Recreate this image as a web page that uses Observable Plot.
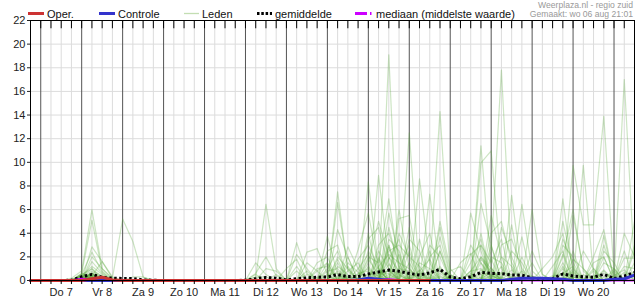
<!DOCTYPE html>
<html><head><meta charset="utf-8">
<script src="https://cdn.jsdelivr.net/npm/d3@7"></script>
<script src="https://cdn.jsdelivr.net/npm/@observablehq/plot@0.6"></script>
<style>
body{margin:0;background:#fff;}
#wrap{position:relative;width:635px;height:300px;font-family:"Liberation Sans",Arial,sans-serif;}
#wrap > svg{display:block}
#legend{position:absolute;left:0;top:0;}
</style></head><body><div id="wrap"></div>
<script>
// ---- time axis ----
const startTijd = "2025-08-06T18:00Z";
const eindTijd = "2025-08-21T12:00Z";
const stapUren = 6;
const dagLabels = ["Do 7","Vr 8","Za 9","Zo 10","Ma 11","Di 12","Wo 13","Do 14","Vr 15","Za 16","Zo 17","Ma 18","Di 19","Wo 20"];
const yTicks = [0,2,4,6,8,10,12,14,16,18,20,22];

// ---- series (mm per 6 h, from 6 aug 18:00, every 6 h) ----
const gemiddelde = [0, 0,0,0,0.02, 0.32,0.52,0.27,0.2, 0.17,0.17,0.05,0.02, 0,0,0,0, 0,0,0,0, 0.02,0.15,0.25,0.2, 0.05,0.15,0.22,0.28, 0.3,0.5,0.33,0.33, 0.55,0.72,0.88,0.78, 0.6,0.46,0.64,0.95, 0.3,0.15,0.32,0.68, 0.6,0.58,0.47,0.45, 0.22,0.08,0.16,0.55, 0.38,0.31,0.28,0.52, 0.17,0.38,0.66];
const mediaan = [0, 0,0,0,0, 0.15,0.1,0.02,0, 0,0,0,0, 0,0,0,0, 0,0,0,0, 0,0,0,0, 0,0,0,0, 0,0,0,0, 0,0.05,0.1,0.05, 0,0,0,0.05, 0,0,0,0.05, 0.05,0.05,0,0, 0,0,0,0, 0,0,0,0, 0,0,0];
const oper = [0, 0,0,0,0, 0,0.15,0.28,0.05, 0,0,0,0, 0,0,0,0, 0,0,0,0, 0,0,0,0, 0,0,0,0, 0,0,0,0, 0,0,0,0, 0,0,0];
const controle = [0, 0,0,0,0, 0,0,0,0, 0,0,0,0, 0,0,0,0, 0,0,0,0, 0,0,0,0, 0,0,0,0, 0,0,0,0.05, 0.2,0.1,0,0, 0,0,0,0, 0,0,0,0, 0,0,0.1,0.2, 0.2,0.2,0.15,0.1, 0,0,0,0, 0.1,0.15,0.45];
const leden = [
[0, 0,0,0,0.2, 0.8,6.0,1.0,0.1, 0,0,0,0, 0,0,0,0, 0,0,0,0, 0,0,0,0, 0,0,0,0, 0,1.2,0.5,0, 0,0,2.0,0.8, 0,0,0,0, 0,0,0,1.5, 0.4,0,0,0, 0,0,0,0.6, 1.2,0,0,0, 0,0,0],
[0, 0,0,0,0, 0.6,5.1,0.8,0, 0,0,0,0, 0,0,0,0, 0,0,0,0, 0,0,0,0, 0,0,0,0, 0,0,0,0, 8.35,1.0,0,0, 0,0,0,2.5, 0,0,0,0, 0,1.2,0,0, 0,0,0,0, 0,0,0,0.8, 0,0,0],
[0, 0,0,0,0, 0,2.85,1.6,0.3, 0,0,0,0, 0,0,0,0, 0,0,0,0, 0,1.5,0.5,0, 0,0,0,0, 0,0,0,0, 0,0,19.1,0, 0,0,0,0, 0,0,0.8,2.0, 0.5,0,0,0, 0.3,0,0,0, 0,0,1.0,0, 0,0,0],
[0, 0,0,0,0, 0.5,2.4,0.7,0, 0,0,0,0, 0,0,0,0, 0,0,0,0, 0,0,0,0, 0,0,0,0, 3.76,0.5,0,0, 0,0,0,0, 12.5,0.4,0,0, 0,0,0,0, 0,0,7.2,0.6, 0,0,0,0, 0,0,0,0, 0,1.9,1.9],
[0, 0,0,0,0, 0,2.0,1.0,0.2, 5.2,3.3,0.3,0, 0,0,0,0, 0,0,0,0, 0,0,0,0, 0,0.8,0,0, 0,0,0,0, 0,8.9,1.5,0, 0,0,0,0, 0.2,0,0,0, 2.5,17.8,1.0,0, 0,0,0,0, 0.3,0,0,0, 0,0,0],
[0, 0,0,0,0, 0,1.6,0.6,0, 0,0,0,0, 0,0,0,0, 0,0,0,0, 0,0.3,6.45,1.0, 0,0,0,0, 0,7.5,0.8,0, 0,0,0,0, 0,0,1.0,14.3, 0.5,0,0,0, 0,0,0,0, 0,0,0,6.9, 0.5,0,0,0, 0,0,0],
[0, 0,0,0,0, 0.4,1.2,0.5,0, 0,0,0,0, 0,0,0,0, 0,0,0,0, 0,0,0,0, 0,3.2,0.6,0, 0,0,0,0, 2.0,1.5,6.9,1.2, 0,0,0,0, 0,0,0,11.4, 1.0,0,0,0, 0,0,0,0, 0,0,0,0, 0.3,0,0],
[0, 0,0,0,0, 0.5,1.0,0.3,0, 0,0,0,0, 0,0,0,0, 0,0,0,0, 0,0.6,2.0,0.4, 0,0,0,0, 0,0,2.85,1.0, 0,0,0,0, 0,8.6,1.5,0, 0,0,0,0, 0,0,0,6.45, 0.8,0,0,0, 9.75,4.7,4.7,13.9, 0.6,0,0],
[0, 0,0,0,0, 0.3,0.8,0.4,0, 0,0,0,0, 0,0,0,0, 0,0,0,0, 0,0,0,0, 0,0,2.4,2.7, 0.5,0,0,0, 0,0,0,5.25, 5.5,0.7,0,0, 0,0,0,9.95, 10.96,1.0,0,0, 0,0,0,0, 0,9.75,0.4,0, 0,0,0],
[0, 0,0,0,0, 0.3,0.6,0,0, 0,0,0,0, 0,0,0,0, 0,0,0,0, 0,0,0,0, 0,0,0,0, 0,6.6,1.0,0, 0,0,0,0, 0,0,7.3,0.8, 0,0,0,0, 0,0,0,0, 6.0,0.5,0,0, 0,0,0,0, 0,17.0,1.0],
[0, 0,0,0,0, 0.2,0.5,0.2,0, 0,0,0,0, 0,0,0,0, 0,0,0,0, 0,0,0,0, 0,0,0,0, 1.5,0,0,2.6, 5.7,1.0,0,0, 0,0,0,3.7, 0.3,0,0,0, 1.8,0,0,0, 0,0,0,5.0, 1.0,0,0,0, 0,0,0],
[0, 0,0,0,0, 0,0.4,1.6,0.2, 0,0.3,0.3,0, 0,0,0,0, 0,0,0,0, 0,0,0,0, 1.0,1.8,0,0, 0,0,0,0, 0,0,5.7,2.0, 0,0,0,0, 0,0,2.2,3.0, 0,0,4.7,0, 0,0,0,0, 0,0,0,3.8, 0,0,0],
[0, 0,0,0,0, 0.6,0.3,0,0, 0,0,0,0, 0,0,0,0, 0,0,0,0, 0,0,0,0, 0,0,0,0, 0,4.3,2.0,0, 0,0,2.5,3.0, 2.0,0,0,0, 0,1.5,2.3,0, 0,0,0,3.7, 0,0,0,0, 0,0,2.0,4.3, 0,0,0],
[0, 0,0,0,0, 0.2,0.6,0,0, 0,0,0,0, 0,0,0,0, 0,0,0,0, 0,0,0,0, 0,0,0,1.5, 2.0,0,0,0, 3.5,4.5,1.0,0, 0,2.0,4.0,0, 0,0,0,0, 5.5,2.0,0,0, 0,0,0,0, 2.5,0,0,0, 0,0,0],
[0, 0,0,0,0, 0,0.3,0,0, 0,0,0,0, 0,0,0,0, 0,0,0,0, 0,0,0,0.5, 0,0,0,0, 0,0,1.5,0.7, 0,3.0,4.0,1.5, 0,0,0,5.0, 1.0,0,0,4.0, 0,0,0,0, 0,0,0,3.0, 2.0,0,0,0, 0,0,3.0],
[0, 0,0,0,0, 0.4,0,0,0, 0,0,0,0, 0,0,0,0, 0,0,0,0, 0,0.5,0,0, 0,0,1.5,0.8, 0,0,0,0, 4.0,0,3.0,0, 4.5,0,0,0, 0,0,5.7,2.5, 0,0,0,0, 0,1.0,2.0,4.0, 0,0,0,0, 1.0,0,0],
[0, 0,0,0,0, 0.3,1.0,0,0, 0,0,0,0, 0,0,0,0, 0,0,0,0, 0,0,0,0, 0,0,0,0, 2.5,3.0,0,0, 0,2.0,0,6.0, 1.0,0,0,0, 0,0,0,0, 0,4.5,2.0,0, 0,0,0,0, 5.5,1.0,0,0, 0,0,2.5],
[0, 0,0,0,0, 0,0.2,0,0, 0,0,0,0, 0,0,0,0, 0,0,0,0, 0,0,1.0,0.8, 0,0,0,0, 0,1.8,0,0, 0,0,3.5,2.5, 0,0,2.0,3.0, 0,0,0,6.5, 3.0,0,0,0, 0,0,0,0, 0,0,0,2.5, 1.5,0,0],
[0, 0,0,0,0, 0.3,0.4,0,0, 0,0,0,0, 0,0,0,0, 0,0,0,0, 0,0,0,0, 0,2.2,1.0,0, 0,0,0,1.8, 3.0,1.0,0,0, 0,3.5,0,0, 0,0,0,0, 4.0,5.0,1.5,0, 0,0,0,2.0, 6.0,0.8,0,0, 0,0,0],
[0, 0,0,0,0, 0,0.5,0.3,0, 0,0,0,0, 0,0,0,0, 0,0,0,0, 0,0,0,0, 0,0,0,1.0, 1.2,0,0,0, 0,0,4.5,1.0, 3.0,0,0,0, 0,0,1.5,3.5, 0,0,0,0, 2.5,0.5,0,0, 0,0,1.5,2.0, 0,0,5.0],
[0, 0,0,0,0, 0.2,0.3,0,0, 0,0,0,0, 0,0,0,0, 0,0,0,0, 0,0,0,0, 0,0,0,0, 0,2.0,1.0,0, 1.5,5.0,2.0,0, 0,0,2.5,0, 0,0,0,0, 0,3.0,3.5,1.0, 0,0,0,0, 0,0,0,0, 0,4.0,2.0],
[0, 0,0,0,0, 0,0.7,0.2,0, 0,0,0,0, 0,0,0,0, 0,0,0,0, 0,0,0,0, 0,0,0.8,0, 0,0,0,1.0, 2.2,0,0,4.0, 2.0,1.2,0,0, 0,0,0,2.0, 1.0,0,0,0, 0,0,0,3.5, 1.5,0,0,0, 0.8,0,0],
[0, 0,0,0,0, 0.5,0.4,0,0, 0,0,0,0, 0,0,0,0, 0,0,0,0, 0,0,0,0, 0,0,0,0, 1.0,2.5,0,0, 0,0,1.8,3.5, 0,0,0,0, 0.8,1.2,0,0, 3.0,0,0,2.0, 0,0,0,0, 0,2.5,1.0,0, 0,0,0],
[0, 0,0,0,0, 0,0.25,0,0, 0,0,0,0, 0,0,0,0, 0,0,0,0, 0,0,0,0, 0,0,0,0, 0,0,0.8,1.5, 0,2.5,1.0,0, 3.5,2.5,0,0, 0,0,3.0,1.5, 0,0,0,0, 0,0,1.2,2.5, 0,0,0,0, 0,2.5,0],
[0, 0,0,0,0, 0.2,0.2,0,0, 0,0,0,0, 0,0,0,0, 0,0,0,0, 0,0.3,0.3,0, 0,0,0,0.8, 1.5,0,0,0, 1.2,0,3.0,0.5, 0,0,0,4.5, 0.5,0,0,0, 0,0,2.5,1.5, 0,0,0,0, 0,0,0,3.0, 0.5,0,0],
[0, 0,0,0,0, 0,0.6,0,0, 0,0,0,0, 0,0,0,0, 0,0,0,0, 0,0,0,0, 0,0,0,0, 0,1.5,0,0, 0,1.2,2.2,1.5, 1.0,0,3.0,2.0, 0,0,0,0, 2.0,1.5,0,0, 0,0,0,0, 1.8,1.0,0,0, 0,0,1.5],
[0, 0,0,0,0, 0.4,0.5,0,0, 0,0,0,0, 0,0,0,0, 0,0,0,0, 0,0,0,0, 0,1.2,0,0, 0,0,2.0,0, 2.5,0.8,0,0, 0,1.5,1.0,0, 0,0,0,3.0, 1.5,3.5,0,0, 0,0,0,1.2, 0,0,0,1.5, 1.0,0,0],
[0, 0,0,0,0, 0,0.35,0,0, 0,0,0,0, 0,0,0,0, 0,0,0,0, 0,0,0,0, 0,0,0,0, 0.8,1.0,0,0.5, 1.0,0,2.8,0, 1.5,0,0,2.5, 0,0,0.8,1.0, 0,0,0,0, 1.5,0,0,1.5, 0,0,0.8,0, 0,0,0],
[0, 0,0,0,0, 0.3,0.4,0.2,0, 0,0,0,0, 0,0,0,0, 0,0,0,0, 0,0,0,0, 0,0,0,0, 0,0,1.2,0, 0,1.8,0,2.2, 0,0.8,1.8,0, 0,0,0,0, 0,2.0,1.2,0, 0,0,0,0, 1.0,0,0,2.0, 0,0,0],
[0, 0,0,0,0, 0,0.2,0,0, 0,0,0,0, 0,0,0,0, 0,0,0,0, 0,0,0,0, 0,0,0.5,0, 0,0.8,0,0, 1.8,0.5,0,0, 2.5,0,0,0, 0.3,0,0,1.8, 0.8,0,0,0, 0,0,0,2.2, 0,0,0,0, 0,1.2,1.0],
[0, 0,0,0,0, 0.2,0.3,0,0, 0,0,0,0, 0,0,0,0, 0,0,0,0, 0,0,0,0, 0,0,0,0, 0.5,0.6,0,0, 0,0,1.0,0.5, 0,0,0,1.2, 0,0,0,0, 0.8,0,0,0, 0,0,0,0.6, 0,0,0,0, 0,0,0.5],
[0, 0,0,0,0, 0,0.2,0,0, 0,0,0,0, 0,0,0,0, 0,0,0,0, 0,0,0,0, 0,0,0,0, 0,0,0.4,0, 0,0.7,0.8,0, 0,0.6,0,0, 0,0,0,0.9, 0,0,0,0, 0,0,0,0, 0.7,0,0,0, 0,0,0],
[0, 0,0,0,0, 0.15,0.3,0,0, 0,0,0,0, 0,0,0,0, 0,0,0,0, 0,0,0,0, 0,0,0,0, 0,0,0,0, 0.5,0,0,1.0, 0.8,0,0,0, 0,0,0,0, 0,0.6,0.5,0, 0,0,0,0, 0,0,0,0.9, 0,0,0],
[0, 0,0,0,0, 0,0.25,0,0, 0,0,0,0, 0,0,0,0, 0,0,0,0, 0,0,0,0, 0,0,0,0, 0,0.4,0,0, 0,0.9,0,0, 0,0,0.7,1.0, 0,0,0,0, 0,0,0,0.8, 0,0,0,0, 0,0,0.4,0, 0,0.7,0],
[0, 0,0,0,0, 0,0.1,0,0, 0,0,0,0, 0,0,0,0, 0,0,0,0, 0,0,0,0, 0,0,0,0.3, 0,0,0,0, 0,0,1.4,0, 0,0,0,0, 0.4,0,0,0.7, 0.5,0,0,0, 0,0,0,1.0, 0,0,0,0, 0,0,0],
[0, 0,0,0,0, 0.2,0.3,0,0, 0,0,0,0, 0,0,0,0, 0,0,0,0, 0,0,0,0, 0,0,0,0, 0,0,0,0.6, 0.8,0,0,0, 0.5,0,0,0, 0,0,0.6,0, 0,0,0,0, 0.4,0,0,0, 0.8,0,0,0, 0,0,0.8],
[0, 0,0,0,0, 0,0.15,0,0, 0,0,0,0, 0,0,0,0, 0,0,0,0, 0,0,0,0, 0,0,0,0, 0,0.3,0,0, 0,0.5,0.6,0, 0,0,0,0.8, 0,0,0,0, 0,0,0.9,0, 0,0,0,0, 0,0.5,0,0, 0,0,0],
[0, 0,0,0,0, 0.1,0.2,0,0, 0,0,0,0, 0,0,0,0, 0,0,0,0, 0,0,0,0, 0,0,0,0, 0,0,0,0, 0,0,0,0.7, 0,0.9,0,0, 0,0,0,0, 1.1,0,0,0, 0,0,0,0.7, 0,0,0,0.6, 0,0,0],
[0, 0,0,0,0, 0,0.3,0,0, 0,0,0,0, 0,0,0,0, 0,0,0,0, 0,0,0,0, 0,0,0,0, 0.4,0,0,0, 0.6,0.4,0,0, 0,0,0.5,0, 0,0,0,0, 0,0.7,0,0, 0,0,0,0, 0,0,0,0, 0.4,0.9,0],
[0, 0,0,0,0, 0,0.2,0,0, 0,0,0,0, 0,0,0,0, 0,0,0,0, 0,0,0,0, 0,0,0,0, 0,0,0.3,0, 0,0,0.9,0, 0,0,0,0.6, 0,0,0,0.5, 0,0,0,0, 0,0,0.4,0.6, 0,0,0,0, 0,0,0],
[0, 0,0,0,0, 0,0.1,0,0, 0,0,0,0, 0,0,0,0, 0,0,0,0, 0,0,0,0, 0,0,0,0, 0,0,0,0, 0,0.3,0,0, 0,0,0,0, 0,0,0,0, 0.4,0,0,0, 0,0,0,0, 0.3,0,0,0, 0,0,0],
[0, 0,0,0,0, 0.1,0,0,0, 0,0,0,0, 0,0,0,0, 0,0,0,0, 0,0,0,0, 0,0,0,0, 0,0,0,0, 0,0,0.5,0, 0,0,0,0, 0,0,0,0.3, 0,0,0,0, 0,0,0,0, 0,0,0,0, 0,0,0],
[0, 0,0,0,0, 0,0.15,0,0, 0,0,0,0, 0,0,0,0, 0,0,0,0, 0,0,0,0, 0,0,0,0, 0,0,0,0, 0.3,0,0,0, 0,0,0,0.4, 0,0,0,0, 0,0,0,0, 0,0,0,0.3, 0,0,0,0, 0,0,0],
[0, 0,0,0,0, 0,0,0,0, 0,0,0,0, 0,0,0,0, 0,0,0,0, 0,0,0,0, 0,0,0,0, 0,0,0,0, 0,0,0,0.4, 0,0,0,0, 0,0,0,0, 0,0,0.3,0, 0,0,0,0, 0,0,0,0, 0,0,0.4],
[0, 0,0,0,0, 0,0.1,0,0, 0,0,0,0, 0,0,0,0, 0,0,0,0, 0,0,0,0, 0,0,0,0, 0,0.2,0,0, 0,0,0,0, 0,0,0.3,0, 0,0,0,0, 0,0,0,0, 0,0,0,0, 0,0,0,0.3, 0,0,0],
[0, 0,0,0,0, 0,0,0,0, 0,0,0,0, 0,0,0,0, 0,0,0,0, 0,0,0,0, 0,0,0,0, 0,0,0,0, 0,0,0.3,0, 0,0,0,0, 0,0,0,0, 0,0.3,0,0, 0,0,0,0, 0,0,0,0, 0,0,0],
[0, 0,0,0,0, 0,0.1,0,0, 0,0,0,0, 0,0,0,0, 0,0,0,0, 0,0,0,0, 0,0,0,0, 0,0,0,0, 0,0,0,0, 0.3,0,0,0, 0,0,0,0, 0,0,0,0, 0,0,0,0.2, 0,0,0,0, 0,0,0],
[0, 0,0,0,0, 0,0,0,0, 0,0,0,0, 0,0,0,0, 0,0,0,0, 0,0,0,0, 0,0,0,0, 0,0,0,0, 0,0.2,0,0, 0,0,0,0, 0,0,0,0.2, 0,0,0,0, 0,0,0,0, 0,0,0,0, 0,0,0],
[0, 0,0,0,0, 0,0,0,0, 0,0,0,0, 0,0,0,0, 0,0,0,0, 0,0,0,0, 0,0,0,0, 0,0,0,0, 0,0,0,0, 0,0,0,0.3, 0,0,0,0, 0,0,0,0, 0,0,0,0, 0,0,0,0, 0,0.3,0],
[0, 0,0,0,0, 0,0,0,0, 0,0,0,0, 0,0,0,0, 0,0,0,0, 0,0,0,0, 0,0,0,0, 0,0,0,0, 0,0,0,0, 0,0,0,0, 0,0,0,0, 0,0,0,0, 0,0,0,0, 0,0,0,0, 0,0,0]
];

// ---- build tables ----
const t0 = new Date(startTijd), t1 = new Date(eindTijd);
const tijden = d3.range(gemiddelde.length).map(i => d3.utcHour.offset(t0, i * stapUren));
const reeks = arr => arr.map((v, i) => ({t: tijden[i], v}));
const ledenData = leden.flatMap((arr, m) => arr.map((v, i) => ({lid: m, t: tijden[i], v})));
const zesUur = d3.utcHour.every(stapUren).range(t0, d3.utcHour.offset(t1, 1));
const middernacht = d3.utcDay.range(t0, t1);
const dagen = middernacht.slice(0, dagLabels.length).map((d, i) => ({t: d3.utcHour.offset(d, 12), label: dagLabels[i]}));

const chart = Plot.plot({
  width: 635, height: 300,
  marginTop: 20, marginBottom: 20, marginLeft: 30, marginRight: 1,
  style: {fontFamily: "'Liberation Sans', Arial, sans-serif", fontSize: "11px", background: "#fff", color: "#222"},
  x: {type: "utc", domain: [t0, t1], axis: null},
  y: {domain: [0, 22]},
  marks: [
    Plot.ruleY(yTicks.filter(v => v > 0 && v < 22), {stroke: "#dcdcdc"}),
    Plot.ruleX(zesUur.filter(d => d.getUTCHours() !== 0), {stroke: "#dcdcdc"}),
    Plot.ruleX(middernacht, {stroke: "#555"}),
    Plot.line(ledenData, {x: "t", y: "v", z: "lid", stroke: "#58a83a", strokeOpacity: 0.3, strokeWidth: 1.2}),
    Plot.line(reeks(gemiddelde), {x: "t", y: "v", stroke: "#000", strokeWidth: 3, strokeDasharray: "2.5,2.5", strokeLinecap: "butt", strokeLinejoin: "miter"}),
    Plot.line(reeks(mediaan), {x: "t", y: "v", stroke: "#cc00ff", strokeWidth: 2}),
    Plot.line(reeks(controle), {x: "t", y: "v", stroke: "#3333cc", strokeWidth: 3}),
    Plot.line(reeks(oper), {x: "t", y: "v", stroke: "#cc3333", strokeWidth: 3}),
    Plot.frame({stroke: "#000"}),
    Plot.ruleX(zesUur, {x: d => d, y1: 22, y2: 21.3, stroke: "#000"}),
    Plot.ruleX(zesUur, {x: d => d, y1: 0, y2: -0.34, stroke: "#000"}),
    Plot.axisY(yTicks, {tickSize: 3, tickPadding: 2, label: null, fontSize: 11, fill: "#222"}),
    Plot.text(dagen, {x: "t", text: "label", frameAnchor: "bottom", dy: 11.5, lineAnchor: "middle", fontSize: 11, fill: "#222"})
  ]
});
const wrap = document.getElementById("wrap");
wrap.append(chart);

// ---- legend overlay ----
const lg = d3.select(wrap).append("svg").attr("id", "legend").attr("width", 635).attr("height", 20)
  .style("font-family", "'Liberation Sans', Arial, sans-serif");
const items = [
  {x: 28, w: 16, stroke: "#cc3333", sw: 3, dash: null, label: "Oper."},
  {x: 99, w: 16, stroke: "#3333cc", sw: 3, dash: null, label: "Controle"},
  {x: 184, w: 15, stroke: "#c3deb2", sw: 1.3, dash: null, label: "Leden"},
  {x: 257, w: 15, stroke: "#000", sw: 3, dash: "2.5,1.8", label: "gemiddelde"},
  {x: 355, w: 18, stroke: "#cc00ff", sw: 3, dash: "12,3,1.5,3", label: "mediaan (middelste waarde)"}
];
items.forEach(it => {
  lg.append("line").attr("x1", it.x).attr("x2", it.x + it.w).attr("y1", 13.5).attr("y2", 13.5)
    .attr("stroke", it.stroke).attr("stroke-width", it.sw).attr("stroke-dasharray", it.dash);
  lg.append("text").attr("x", it.x + it.w + 3).attr("y", 17.5).attr("font-size", 11).attr("fill", "#111").text(it.label);
});
lg.append("text").attr("x", 633).attr("y", 8).attr("text-anchor", "end").attr("font-size", 8.6).attr("fill", "#999").text("Weerplaza.nl - regio zuid");
lg.append("text").attr("x", 633).attr("y", 17).attr("text-anchor", "end").attr("font-size", 8.6).attr("fill", "#999").text("Gemaakt: wo 06 aug 21:01");
</script></body></html>
